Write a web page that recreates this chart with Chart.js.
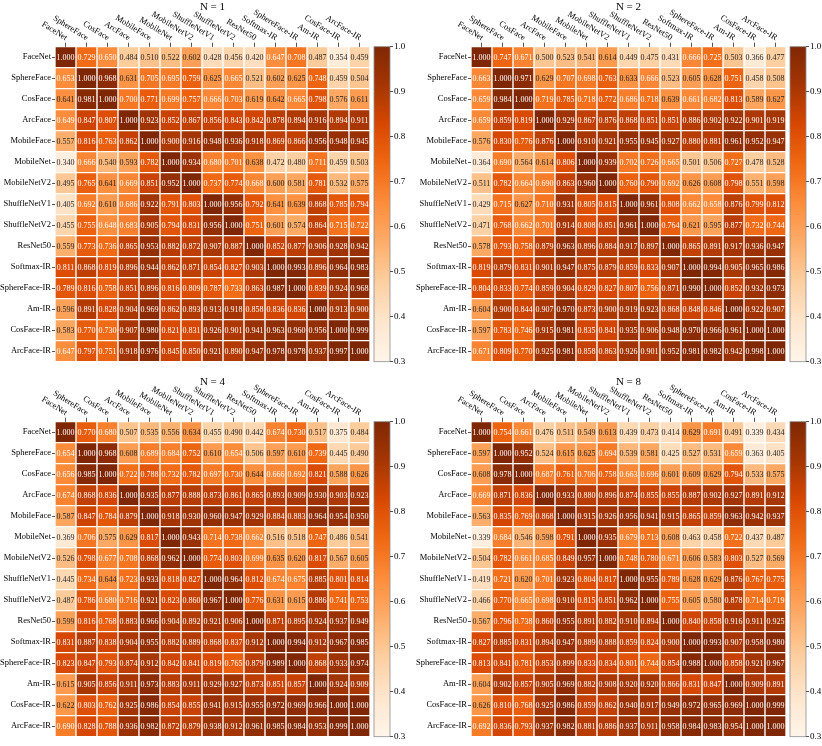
<!DOCTYPE html>
<html>
<head>
<meta charset="utf-8">
<script src="https://cdn.jsdelivr.net/npm/chart.js@4.4.1/dist/chart.umd.min.js"></script>
<style>
    html, body { margin: 0; padding: 0; background: #fff; overflow: hidden; }
    #wrap { position: relative; width: 822px; height: 746px; }
    .panel { position: absolute; width: 411px; height: 371px; }
    .panel canvas { position: absolute; top: 0; }
</style>
</head>
<body>
<div id="wrap"></div>
<script>
// Model names (rows and columns share the same order)
const models = ['FaceNet', 'SphereFace', 'CosFace', 'ArcFace', 'MobileFace', 'MobileNet', 'MobileNetV2',
    'ShuffleNetV1', 'ShuffleNetV2', 'ResNet50', 'Softmax-IR', 'SphereFace-IR', 'Am-IR', 'CosFace-IR', 'ArcFace-IR'];

const panelTitles = ['N = 1', 'N = 2', 'N = 4', 'N = 8'];

// Colorbar ticks
const cbTicks = [0.3, 0.4, 0.5, 0.6, 0.7, 0.8, 0.9, 1.0];
const vMin = 0.3;
const vMax = 1.0;

const simN1 = [
    [1.000, 0.729, 0.650, 0.484, 0.510, 0.522, 0.602, 0.428, 0.456, 0.420, 0.647, 0.708, 0.487, 0.354, 0.459],
    [0.653, 1.000, 0.968, 0.631, 0.705, 0.695, 0.759, 0.625, 0.665, 0.521, 0.602, 0.625, 0.748, 0.459, 0.504],
    [0.641, 0.981, 1.000, 0.700, 0.771, 0.699, 0.757, 0.666, 0.703, 0.619, 0.642, 0.665, 0.798, 0.576, 0.611],
    [0.649, 0.847, 0.807, 1.000, 0.923, 0.852, 0.867, 0.856, 0.843, 0.842, 0.878, 0.894, 0.916, 0.894, 0.911],
    [0.557, 0.816, 0.763, 0.862, 1.000, 0.900, 0.916, 0.948, 0.936, 0.918, 0.869, 0.866, 0.956, 0.948, 0.945],
    [0.340, 0.666, 0.540, 0.593, 0.782, 1.000, 0.934, 0.680, 0.701, 0.638, 0.472, 0.480, 0.711, 0.459, 0.503],
    [0.495, 0.765, 0.641, 0.669, 0.851, 0.952, 1.000, 0.737, 0.774, 0.668, 0.600, 0.581, 0.781, 0.532, 0.575],
    [0.405, 0.692, 0.610, 0.686, 0.922, 0.791, 0.803, 1.000, 0.956, 0.792, 0.641, 0.639, 0.868, 0.785, 0.794],
    [0.455, 0.755, 0.648, 0.683, 0.905, 0.794, 0.831, 0.956, 1.000, 0.751, 0.601, 0.574, 0.864, 0.715, 0.722],
    [0.559, 0.773, 0.736, 0.865, 0.953, 0.882, 0.872, 0.907, 0.887, 1.000, 0.852, 0.877, 0.906, 0.928, 0.942],
    [0.811, 0.868, 0.819, 0.896, 0.944, 0.862, 0.871, 0.854, 0.827, 0.903, 1.000, 0.993, 0.896, 0.964, 0.983],
    [0.789, 0.816, 0.758, 0.851, 0.896, 0.816, 0.809, 0.787, 0.733, 0.863, 0.987, 1.000, 0.839, 0.924, 0.968],
    [0.596, 0.891, 0.828, 0.904, 0.969, 0.862, 0.893, 0.913, 0.918, 0.858, 0.836, 0.836, 1.000, 0.913, 0.900],
    [0.583, 0.770, 0.730, 0.907, 0.980, 0.821, 0.831, 0.926, 0.901, 0.941, 0.963, 0.960, 0.956, 1.000, 0.999],
    [0.647, 0.797, 0.751, 0.918, 0.976, 0.845, 0.850, 0.921, 0.890, 0.947, 0.978, 0.978, 0.937, 0.997, 1.000]
];

const simN2 = [
    [1.000, 0.747, 0.671, 0.500, 0.523, 0.541, 0.614, 0.449, 0.475, 0.431, 0.666, 0.725, 0.503, 0.366, 0.477],
    [0.663, 1.000, 0.971, 0.629, 0.707, 0.698, 0.763, 0.633, 0.666, 0.523, 0.605, 0.628, 0.751, 0.458, 0.508],
    [0.659, 0.984, 1.000, 0.719, 0.785, 0.718, 0.772, 0.686, 0.718, 0.639, 0.661, 0.682, 0.813, 0.589, 0.627],
    [0.659, 0.859, 0.819, 1.000, 0.929, 0.867, 0.876, 0.868, 0.851, 0.851, 0.886, 0.902, 0.922, 0.901, 0.919],
    [0.576, 0.830, 0.776, 0.876, 1.000, 0.910, 0.921, 0.955, 0.945, 0.927, 0.880, 0.881, 0.961, 0.952, 0.947],
    [0.364, 0.690, 0.564, 0.614, 0.806, 1.000, 0.939, 0.702, 0.726, 0.665, 0.501, 0.506, 0.727, 0.478, 0.528],
    [0.511, 0.782, 0.664, 0.690, 0.863, 0.960, 1.000, 0.760, 0.790, 0.692, 0.626, 0.608, 0.798, 0.551, 0.598],
    [0.429, 0.715, 0.627, 0.710, 0.931, 0.805, 0.815, 1.000, 0.961, 0.808, 0.662, 0.658, 0.876, 0.799, 0.812],
    [0.471, 0.768, 0.662, 0.701, 0.914, 0.808, 0.851, 0.961, 1.000, 0.764, 0.621, 0.595, 0.877, 0.732, 0.744],
    [0.578, 0.793, 0.758, 0.879, 0.963, 0.896, 0.884, 0.917, 0.897, 1.000, 0.865, 0.891, 0.917, 0.936, 0.947],
    [0.819, 0.879, 0.831, 0.901, 0.947, 0.875, 0.879, 0.859, 0.833, 0.907, 1.000, 0.994, 0.905, 0.965, 0.986],
    [0.804, 0.833, 0.774, 0.859, 0.904, 0.829, 0.827, 0.807, 0.756, 0.871, 0.990, 1.000, 0.852, 0.932, 0.973],
    [0.604, 0.900, 0.844, 0.907, 0.970, 0.873, 0.900, 0.919, 0.923, 0.868, 0.848, 0.846, 1.000, 0.922, 0.907],
    [0.597, 0.783, 0.746, 0.915, 0.981, 0.835, 0.841, 0.935, 0.906, 0.948, 0.970, 0.966, 0.961, 1.000, 1.000],
    [0.671, 0.809, 0.770, 0.925, 0.981, 0.858, 0.863, 0.926, 0.901, 0.952, 0.981, 0.982, 0.942, 0.998, 1.000]
];

const simN4 = [
    [1.000, 0.770, 0.680, 0.507, 0.535, 0.556, 0.634, 0.455, 0.490, 0.442, 0.674, 0.730, 0.517, 0.375, 0.484],
    [0.654, 1.000, 0.968, 0.608, 0.689, 0.684, 0.752, 0.610, 0.654, 0.506, 0.597, 0.610, 0.739, 0.445, 0.490],
    [0.656, 0.985, 1.000, 0.722, 0.788, 0.732, 0.782, 0.697, 0.730, 0.644, 0.666, 0.692, 0.821, 0.588, 0.626],
    [0.674, 0.868, 0.836, 1.000, 0.935, 0.877, 0.888, 0.873, 0.861, 0.865, 0.893, 0.909, 0.930, 0.903, 0.923],
    [0.587, 0.847, 0.784, 0.879, 1.000, 0.918, 0.930, 0.960, 0.947, 0.929, 0.884, 0.883, 0.964, 0.954, 0.950],
    [0.369, 0.706, 0.575, 0.629, 0.817, 1.000, 0.943, 0.714, 0.738, 0.662, 0.516, 0.518, 0.747, 0.486, 0.541],
    [0.526, 0.798, 0.677, 0.708, 0.868, 0.962, 1.000, 0.774, 0.803, 0.699, 0.635, 0.620, 0.817, 0.567, 0.605],
    [0.445, 0.734, 0.644, 0.723, 0.933, 0.818, 0.827, 1.000, 0.964, 0.812, 0.674, 0.675, 0.885, 0.801, 0.814],
    [0.487, 0.786, 0.680, 0.716, 0.921, 0.823, 0.860, 0.967, 1.000, 0.776, 0.631, 0.615, 0.886, 0.741, 0.753],
    [0.599, 0.816, 0.768, 0.883, 0.966, 0.904, 0.892, 0.921, 0.906, 1.000, 0.871, 0.895, 0.924, 0.937, 0.949],
    [0.831, 0.887, 0.838, 0.904, 0.955, 0.882, 0.889, 0.868, 0.837, 0.912, 1.000, 0.994, 0.912, 0.967, 0.985],
    [0.823, 0.847, 0.793, 0.874, 0.912, 0.842, 0.841, 0.819, 0.765, 0.879, 0.989, 1.000, 0.868, 0.933, 0.974],
    [0.615, 0.905, 0.856, 0.911, 0.973, 0.883, 0.911, 0.929, 0.927, 0.873, 0.851, 0.857, 1.000, 0.924, 0.909],
    [0.622, 0.803, 0.762, 0.925, 0.986, 0.854, 0.855, 0.941, 0.915, 0.955, 0.972, 0.969, 0.966, 1.000, 1.000],
    [0.690, 0.828, 0.788, 0.936, 0.982, 0.872, 0.879, 0.938, 0.912, 0.961, 0.985, 0.984, 0.953, 0.999, 1.000]
];

const simN8 = [
    [1.000, 0.754, 0.661, 0.476, 0.511, 0.549, 0.613, 0.439, 0.473, 0.414, 0.629, 0.691, 0.491, 0.339, 0.434],
    [0.597, 1.000, 0.952, 0.524, 0.615, 0.625, 0.694, 0.539, 0.581, 0.425, 0.527, 0.531, 0.659, 0.363, 0.405],
    [0.608, 0.978, 1.000, 0.687, 0.761, 0.706, 0.758, 0.663, 0.696, 0.601, 0.609, 0.629, 0.794, 0.533, 0.575],
    [0.669, 0.871, 0.836, 1.000, 0.933, 0.880, 0.896, 0.874, 0.855, 0.855, 0.887, 0.902, 0.927, 0.891, 0.912],
    [0.563, 0.835, 0.769, 0.868, 1.000, 0.915, 0.926, 0.956, 0.941, 0.915, 0.865, 0.859, 0.963, 0.942, 0.937],
    [0.339, 0.684, 0.546, 0.598, 0.791, 1.000, 0.935, 0.679, 0.713, 0.608, 0.463, 0.458, 0.722, 0.437, 0.487],
    [0.504, 0.782, 0.661, 0.685, 0.849, 0.957, 1.000, 0.748, 0.780, 0.671, 0.606, 0.583, 0.803, 0.527, 0.569],
    [0.419, 0.721, 0.620, 0.701, 0.923, 0.804, 0.817, 1.000, 0.955, 0.789, 0.628, 0.629, 0.876, 0.767, 0.775],
    [0.466, 0.770, 0.665, 0.698, 0.910, 0.815, 0.851, 0.962, 1.000, 0.755, 0.605, 0.580, 0.878, 0.714, 0.719],
    [0.567, 0.796, 0.738, 0.860, 0.955, 0.891, 0.882, 0.910, 0.894, 1.000, 0.840, 0.858, 0.916, 0.911, 0.925],
    [0.827, 0.885, 0.831, 0.894, 0.947, 0.889, 0.888, 0.859, 0.824, 0.900, 1.000, 0.993, 0.907, 0.958, 0.980],
    [0.813, 0.841, 0.781, 0.853, 0.899, 0.833, 0.834, 0.801, 0.744, 0.854, 0.988, 1.000, 0.858, 0.921, 0.967],
    [0.604, 0.902, 0.857, 0.905, 0.969, 0.882, 0.908, 0.920, 0.920, 0.866, 0.831, 0.847, 1.000, 0.909, 0.891],
    [0.626, 0.810, 0.768, 0.925, 0.986, 0.859, 0.862, 0.940, 0.917, 0.949, 0.972, 0.965, 0.969, 1.000, 0.999],
    [0.692, 0.836, 0.793, 0.937, 0.982, 0.881, 0.886, 0.937, 0.911, 0.958, 0.984, 0.983, 0.954, 1.000, 1.000]
];

// Layout (pixels)
const PANEL_W = 411;
const PANEL_H = 371;
const CELL_TOP = 46.7;
const GRID = 315;
const CB_W = 36;
const LABEL_ANGLE = 32 * Math.PI / 180;
const SERIF = '"Liberation Serif", "Times New Roman", serif';

// Oranges colour ramp (matplotlib)
const orangeStops = ['#fff5eb', '#fee6ce', '#fdd0a2', '#fdae6b', '#fd8d3c', '#f16913', '#d94801', '#a63603', '#7f2704']
    .map(h => [1, 3, 5].map(i => parseInt(h.substr(i, 2), 16)));

function rgbFor(v) {
    let t = Math.min(1, Math.max(0, (v - vMin) / (vMax - vMin))) * (orangeStops.length - 1);
    let i = Math.min(Math.floor(t), orangeStops.length - 2);
    let f = t - i;
    return orangeStops[i].map((c, k) => c + (orangeStops[i + 1][k] - c) * f);
}

function cmap(v) {
    let c = rgbFor(v);
    return 'rgb(' + c.map(Math.round).join(',') + ')';
}

// Dark text on light cells, white on dark ones (same rule as seaborn)
function textColor(v) {
    let lin = rgbFor(v).map(c => {
        c = c / 255;
        return c <= 0.03928 ? c / 12.92 : Math.pow((c + 0.055) / 1.055, 2.4);
    });
    let lum = 0.2126 * lin[0] + 0.7152 * lin[1] + 0.0722 * lin[2];
    return lum > 0.408 ? '#262626' : '#ffffff';
}

// Values printed in every cell
const cellText = {
    id: 'cellText',
    afterDatasetsDraw(chart) {
        let ctx = chart.ctx;
        ctx.save();
        ctx.font = '8px ' + SERIF;
        ctx.textAlign = 'center';
        ctx.textBaseline = 'middle';
        chart.data.datasets.forEach((ds, r) => {
            chart.getDatasetMeta(r).data.forEach((bar, c) => {
                let v = ds.scores[c];
                let pt = bar.getCenterPoint();
                ctx.fillStyle = textColor(v);
                ctx.fillText(v.toFixed(3), pt.x, pt.y + 0.5);
            });
        });
        ctx.restore();
    }
};

// Slanted column labels and panel title
const topLabels = {
    id: 'topLabels',
    afterDraw(chart, args, opts) {
        let ctx = chart.ctx;
        let xs = chart.scales.x;
        let area = chart.chartArea;
        ctx.save();
        ctx.fillStyle = '#000';
        ctx.font = '8.5px ' + SERIF;
        ctx.textAlign = 'right';
        ctx.textBaseline = 'middle';
        models.forEach((name, i) => {
            ctx.save();
            ctx.translate(xs.getPixelForTick(i) + 1, area.top - 8);
            ctx.rotate(LABEL_ANGLE);
            ctx.fillText(name, 0, 0);
            ctx.restore();
        });
        ctx.font = '11px ' + SERIF;
        ctx.textAlign = 'center';
        ctx.fillText(opts.title, (area.left + area.right) / 2, 7);
        ctx.restore();
    }
};

// Gradient for colorbar
const colorbarFill = {
    id: 'colorbarFill',
    beforeDraw(chart) {
        let ctx = chart.ctx;
        let area = chart.chartArea;
        let ys = chart.scales.y;
        let grad = ctx.createLinearGradient(0, ys.getPixelForValue(vMin), 0, ys.getPixelForValue(vMax));
        for (let k = 0; k <= 40; k++) {
            grad.addColorStop(k / 40, cmap(vMin + (vMax - vMin) * k / 40));
        }
        ctx.save();
        ctx.fillStyle = grad;
        ctx.fillRect(area.left, area.top, area.right - area.left, area.bottom - area.top);
        ctx.strokeStyle = '#8c8c8c';
        ctx.lineWidth = 0.8;
        ctx.strokeRect(area.left, area.top, area.right - area.left, area.bottom - area.top);
        ctx.restore();
    }
};

function drawHeatmap(canvas, matrix, title, cellLeft) {
    return new Chart(canvas, {
        type: 'bar',
        data: {
            labels: models,
            datasets: matrix.map((row, r) => ({
                label: models[r],
                data: row.map(() => 1),
                scores: row,
                backgroundColor: row.map(cmap),
                borderColor: '#ffffff',
                borderWidth: 1,
                borderSkipped: false,
                barPercentage: 1,
                categoryPercentage: 1
            }))
        },
        options: {
            responsive: false,
            animation: false,
            events: [],
            layout: {
                padding: {
                    left: 0,
                    top: 0,
                    right: PANEL_W - cellLeft - GRID,
                    bottom: PANEL_H - CELL_TOP - GRID
                }
            },
            plugins: {
                legend: { display: false },
                tooltip: { enabled: false },
                topLabels: { title: title }
            },
            scales: {
                x: {
                    type: 'category',
                    position: 'top',
                    stacked: true,
                    offset: true,
                    grid: { offset: false, drawOnChartArea: false, tickLength: 4, color: '#555' },
                    border: { display: false },
                    ticks: { display: false },
                    afterFit: s => { s.height = CELL_TOP; }
                },
                y: {
                    type: 'linear',
                    position: 'left',
                    stacked: true,
                    reverse: true,
                    min: 0,
                    max: models.length,
                    afterBuildTicks: s => { s.ticks = models.map((m, i) => ({ value: i + 0.5 })); },
                    ticks: {
                        autoSkip: false,
                        padding: 1,
                        color: '#000',
                        font: { family: SERIF, size: 8.5 },
                        callback: v => models[Math.floor(v)]
                    },
                    grid: { drawOnChartArea: false, tickLength: 3, color: '#555' },
                    border: { display: false },
                    afterFit: s => { s.width = cellLeft; }
                }
            }
        },
        plugins: [cellText, topLabels]
    });
}

function drawColorbar(canvas) {
    return new Chart(canvas, {
        type: 'bar',
        data: { labels: [''], datasets: [] },
        options: {
            responsive: false,
            animation: false,
            events: [],
            layout: { padding: { left: 4, top: CELL_TOP, right: 0, bottom: PANEL_H - CELL_TOP - GRID } },
            plugins: { legend: { display: false }, tooltip: { enabled: false } },
            scales: {
                x: { display: false },
                y: {
                    type: 'linear',
                    position: 'right',
                    min: vMin,
                    max: vMax,
                    afterBuildTicks: s => { s.ticks = cbTicks.map(v => ({ value: v })); },
                    ticks: {
                        padding: 1,
                        color: '#000',
                        font: { family: SERIF, size: 9 },
                        callback: v => v.toFixed(1)
                    },
                    grid: { drawOnChartArea: false, tickLength: 3, color: '#555' },
                    border: { display: false },
                    afterFit: s => { s.width = CB_W - 4 - 16; }
                }
            }
        },
        plugins: [colorbarFill]
    });
}

const matrices = [simN1, simN2, simN4, simN8];
const panelPos = [[0, 0, 55], [411, 0, 60], [0, 375, 55], [411, 375, 60]];
const wrap = document.getElementById('wrap');

matrices.forEach((m, k) => {
    let [left, top, cellLeft] = panelPos[k];
    let panel = document.createElement('div');
    panel.className = 'panel';
    panel.style.left = left + 'px';
    panel.style.top = top + 'px';

    let hm = document.createElement('canvas');
    hm.width = PANEL_W;
    hm.height = PANEL_H;
    hm.style.left = '0px';
    panel.appendChild(hm);

    let cb = document.createElement('canvas');
    cb.width = CB_W;
    cb.height = PANEL_H;
    cb.style.left = (cellLeft + GRID) + 'px';
    panel.appendChild(cb);

    wrap.appendChild(panel);
    drawHeatmap(hm, m, panelTitles[k], cellLeft);
    drawColorbar(cb);
});
</script>
</body>
</html>
